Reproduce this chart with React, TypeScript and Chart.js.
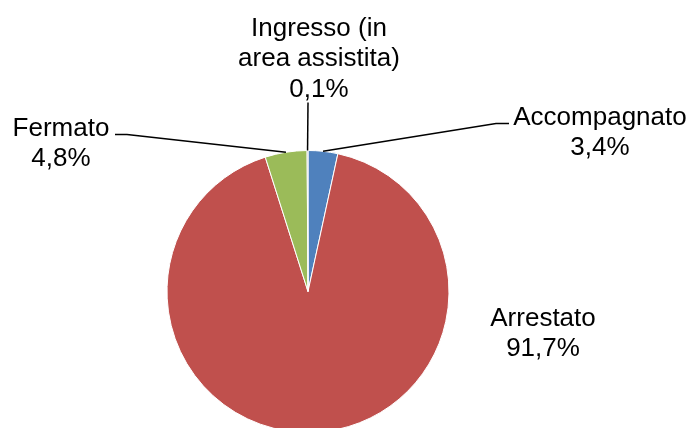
import React, { useEffect, useRef } from "react";
import { Chart, registerables } from "chart.js";

Chart.register(...registerables);

const categories = ["Accompagnato", "Arrestato", "Fermato", "Ingresso (in area assistita)"];
const categoryLines = [["Accompagnato"], ["Arrestato"], ["Fermato"], ["Ingresso (in", "area assistita)"]];
const percentages = [3.4, 91.7, 4.8, 0.1];
const sliceColors = ["#4F81BD", "#C0504D", "#9BBB59", "#8064A2"];

const fmt = (v: number) => v.toFixed(1).replace(".", ",") + "%";

// label layout relative to pie centre: text centre x, first baseline y, leader points
const labelLayout = [
  { dx: 292, dy: -167, leader: [[188, -168], [201, -168]] },
  { dx: 235, dy: 34, leader: null },
  { dx: -247, dy: -156, leader: [[-181, -157], [-193, -157]] },
  { dx: 11, dy: -256, leader: [[0, -189]] },
];

const labelPlugin = {
  id: "pieLabels",
  afterDatasetsDraw(chart: any) {
    const ctx = chart.ctx;
    const meta = chart.getDatasetMeta(0);
    ctx.save();
    meta.data.forEach((arc: any, i: number) => {
      const lay = labelLayout[i];
      const cx = arc.x;
      const cy = arc.y;
      if (lay.leader) {
        const mid = (arc.startAngle + arc.endAngle) / 2;
        const sx = cx + Math.cos(mid) * arc.outerRadius;
        const sy = cy + Math.sin(mid) * arc.outerRadius;
        ctx.beginPath();
        ctx.moveTo(sx, sy);
        lay.leader.forEach((p: number[]) => ctx.lineTo(cx + p[0], cy + p[1]));
        ctx.strokeStyle = "#000000";
        ctx.lineWidth = 1.5;
        ctx.stroke();
      }
      const lines = [...categoryLines[i], fmt(percentages[i])];
      ctx.fillStyle = "#000000";
      ctx.font = '26px "Liberation Sans", Arial, sans-serif';
      ctx.textAlign = "center";
      ctx.textBaseline = "alphabetic";
      lines.forEach((t, k) => {
        ctx.fillText(t, cx + lay.dx, cy + lay.dy + k * 30.5);
      });
    });
    ctx.restore();
  },
};

export default function App() {
  const ref = useRef<HTMLCanvasElement>(null);
  useEffect(() => {
    if (!ref.current) return;
    const chart = new Chart(ref.current, {
      type: "pie",
      data: {
        labels: categories,
        datasets: [
          {
            data: percentages,
            backgroundColor: sliceColors,
            borderColor: "#ffffff",
            borderWidth: 1,
          },
        ],
      },
      options: {
        responsive: false,
        animation: false,
        layout: { padding: { left: 166, right: 244, top: 150, bottom: 17 } },
        plugins: {
          legend: { display: false },
          tooltip: { enabled: false },
        },
      },
      plugins: [labelPlugin],
    });
    return () => chart.destroy();
  }, []);
  return (
    <div
      style={{
        position: "fixed",
        left: 0,
        top: 0,
        width: 694,
        height: 428,
        overflow: "hidden",
        background: "#ffffff",
      }}
    >
      <canvas ref={ref} width={694} height={450} style={{ display: "block" }} />
    </div>
  );
}
